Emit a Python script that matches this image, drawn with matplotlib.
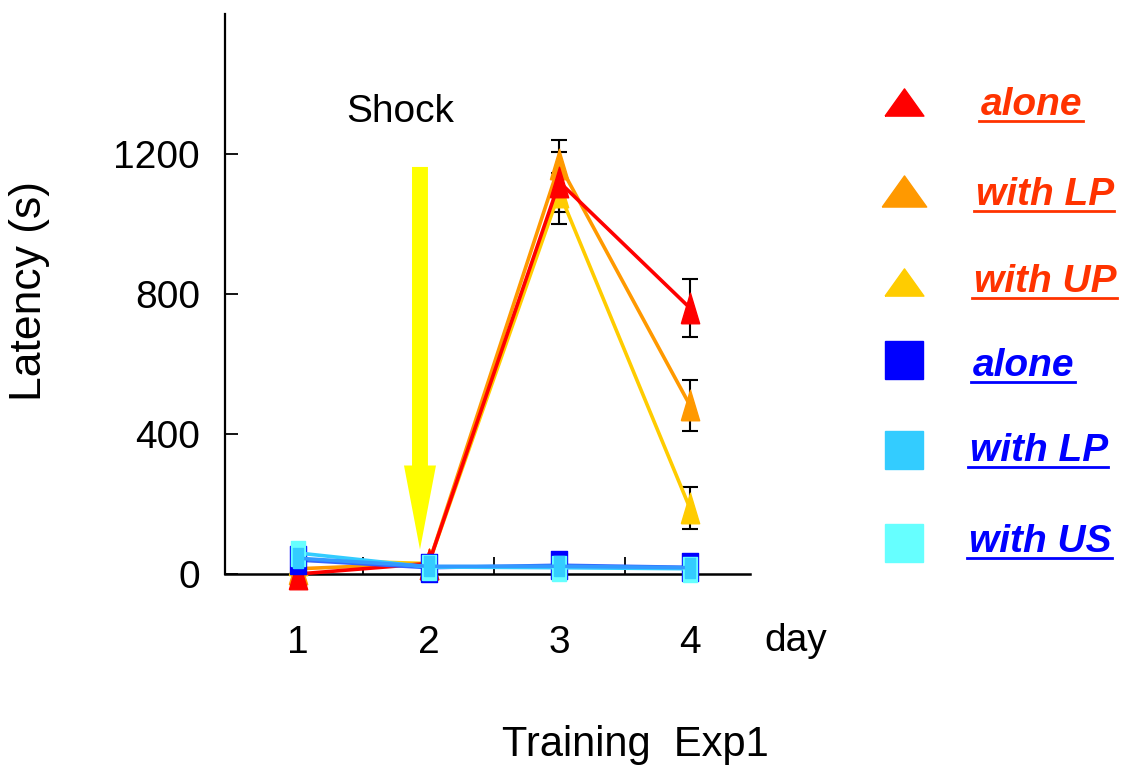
import numpy as np
import matplotlib
matplotlib.use("Agg")
import matplotlib.pyplot as plt
from matplotlib.lines import Line2D

plt.rcParams['font.family'] = ['Liberation Sans', 'DejaVu Sans']

# ---------------- data ----------------
days = [1, 2, 3, 4]
day_labels = ["1", "2", "3", "4"]

tri_alone = [0, 30, 1120, 760]
tri_alone_err = [0, 0, 120, 82]
tri_lp = [15, 30, 1170, 482]
tri_lp_err = [0, 0, 35, 73]
tri_up = [40, 30, 1090, 188]
tri_up_err = [0, 0, 55, 60]

sq_alone = [40, 18, 25, 19]
sq_lp = [45, 22, 22, 18]
sq_us = [60, 20, 18, 15]

legend_labels = ["alone", "with LP", "with UP", "alone", "with LP", "with US"]
yticks = [0, 400, 800, 1200]

# ---------------- styles ----------------
RED, ORANGE, YELLOW = "#ff0000", "#ff9900", "#ffcc00"
BLUE, LIGHTBLUE, CYAN = "#0000ff", "#33ccff", "#66ffff"
TXT_RED, TXT_BLUE = "#ff3300", "#0000ff"

tri_tall = [(-0.6, -1), (0.6, -1), (0, 1), (-0.6, -1)]
rect_tall = [(-0.55, -1), (0.55, -1), (0.55, 1), (-0.55, 1), (-0.55, -1)]
tri_flat = [(-1, -0.7), (1, -0.7), (0, 0.7), (-1, -0.7)]

W, H = 1129, 773
fig = plt.figure(figsize=(W / 100, H / 100), dpi=100)
ax = fig.add_axes([225 / W, 1 - 574 / H, (750 - 225) / W, (574 - 14) / H])
ax.set_xlim(0.44, 4.46)
ax.set_ylim(0, 1600)

# arrow (shock)
ax.arrow(1.933, 1163, 0, -1163 + 70 + 240, width=0.122, head_width=0.245,
         head_length=240, length_includes_head=False, color="#ffff00",
         linewidth=0, zorder=1)
ax.text(1.78, 1320, "Shock", fontsize=28, ha="center", va="center", zorder=5)

# triangle series
tri_series = [(tri_alone, tri_alone_err, RED), (tri_lp, tri_lp_err, ORANGE),
              (tri_up, tri_up_err, YELLOW)]
for vals, err, col in tri_series:
    ax.errorbar(days[2:], vals[2:], yerr=err[2:], fmt="none", ecolor="black",
                elinewidth=1.5, capsize=6, capthick=1.5, zorder=2)
for vals, err, col in [tri_series[2], tri_series[1], tri_series[0]]:
    ax.plot(days, vals, color=col, lw=2.6, marker=tri_tall, markersize=22,
            markerfacecolor=col, markeredgecolor=col, zorder=3, clip_on=False)

# square series (alone at the back, with LP on top)
sq_series = [(sq_alone, BLUE, "#3366ff", 20, 4.0),
             (sq_us, CYAN, "#33ccff", 18, 4.1),
             (sq_lp, LIGHTBLUE, "#3399ff", 14, 4.2)]
for vals, fc, lc, ms, z in sq_series:
    ax.plot(days, vals, color=lc, lw=2.6, marker=rect_tall, markersize=ms,
            markerfacecolor=fc, markeredgecolor=fc, zorder=z, clip_on=False)

# axes styling
for s in ["top", "right"]:
    ax.spines[s].set_visible(False)
ax.spines["left"].set_linewidth(1.6)
ax.spines["bottom"].set_linewidth(1.8)
ax.spines["bottom"].set_zorder(2.5)
ax.set_yticks(yticks)
ax.set_yticklabels([str(v) for v in yticks], fontsize=28)
ax.tick_params(axis="y", direction="in", length=9, width=1.3, pad=18)
ax.set_xticks(days)
ax.set_xticklabels(day_labels, fontsize=28)
ax.set_xticks([1.5, 2.5, 3.5], minor=True)
ax.tick_params(axis="x", which="major", length=0, pad=37)
ax.tick_params(axis="x", which="minor", direction="in", length=12, width=1.3)

fig.text(796 / W, 1 - 641 / H, "day", fontsize=28, ha="center", va="center")
fig.text(635 / W, 1 - 745 / H, "Training  Exp1", fontsize=30, ha="center", va="center")
fig.text(30 / W, 1 - 291 / H, "Latency (s)", fontsize=32, rotation=90,
         ha="center", va="center")

# custom legend
leg_markers = [(tri_flat, RED, 28), (tri_flat, ORANGE, 32), (tri_flat, YELLOW, 28),
               ("s", BLUE, 28), ("s", LIGHTBLUE, 28), ("s", CYAN, 28)]
leg_marker_y = [102, 191, 282, 360, 450, 543]
leg_text_x = [981, 976, 974, 973, 970, 969]
leg_text_base = [115, 205, 292, 376, 461, 552]
leg_text_col = [TXT_RED] * 3 + [TXT_BLUE] * 3

texts = []
for i, lab in enumerate(legend_labels):
    m, col, ms = leg_markers[i]
    fig.add_artist(Line2D([904 / W], [1 - leg_marker_y[i] / H], marker=m,
                          markersize=ms, color=col, markeredgecolor=col,
                          linestyle="none", transform=fig.transFigure))
    t = fig.text(leg_text_x[i] / W, 1 - leg_text_base[i] / H, lab, fontsize=28,
                 fontweight="bold", fontstyle="italic", color=leg_text_col[i],
                 ha="left", va="baseline")
    texts.append(t)

fig.canvas.draw()
r = fig.canvas.get_renderer()
for i, t in enumerate(texts):
    bb = t.get_window_extent(r)
    yline = 1 - (leg_text_base[i] + 6) / H
    fig.add_artist(Line2D([bb.x0 / W - 2 / W, bb.x1 / W], [yline, yline],
                          color=leg_text_col[i], lw=2, transform=fig.transFigure))

fig.savefig("out.png", dpi=100)
